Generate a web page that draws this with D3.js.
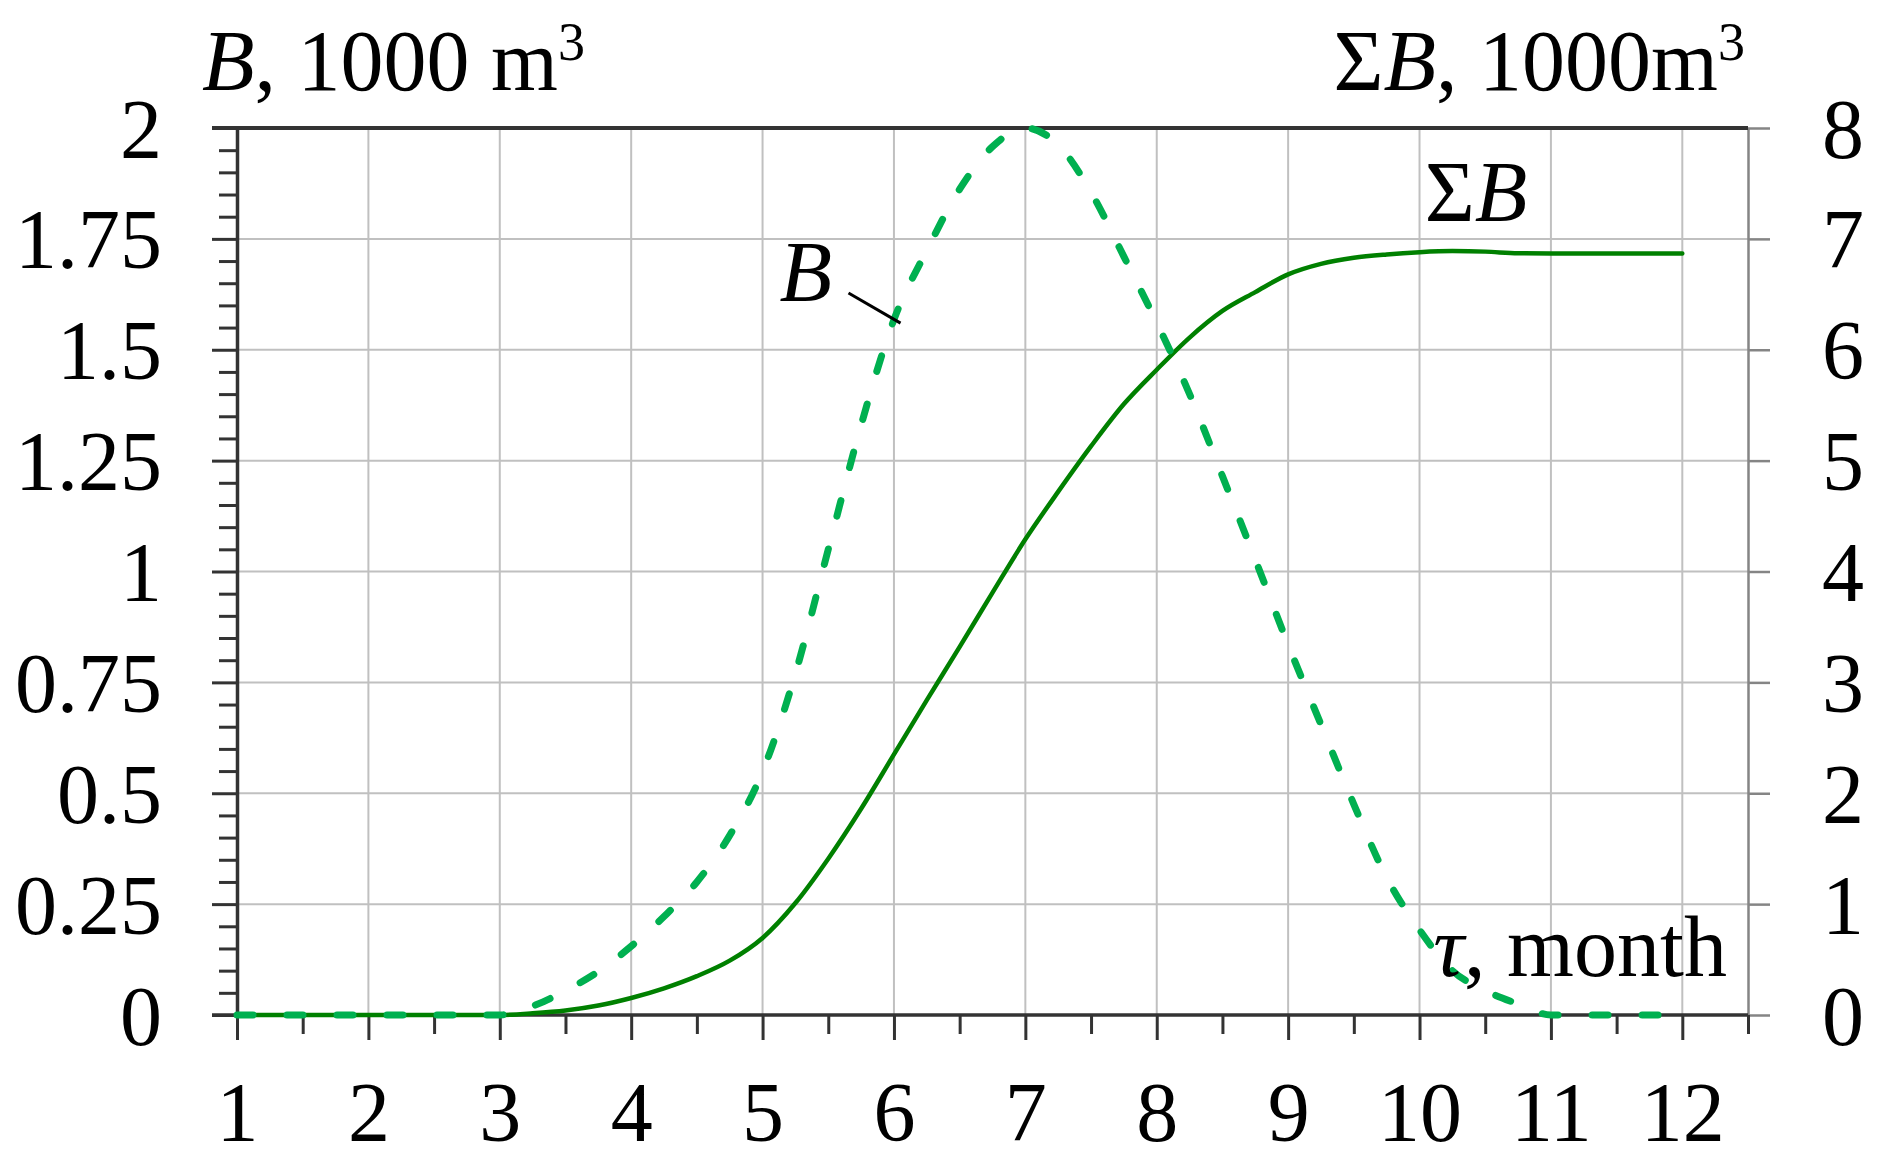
<!DOCTYPE html>
<html>
<head>
<meta charset="utf-8">
<script src="https://cdn.jsdelivr.net/npm/d3@7/dist/d3.min.js"></script>
<style>
  html, body { margin: 0; padding: 0; background: #fff; }
  svg { display: block; }
  text { font-family: "Liberation Serif", "Times New Roman", serif; fill: #000; }
</style>
</head>
<body>
<svg id="chart" width="1884" height="1172"></svg>
<script>
// ---- data ----
const months = [1, 1.25, 1.5, 1.75, 2, 2.25, 2.5, 2.75, 3, 3.25, 3.5, 3.75, 4, 4.25, 4.5, 4.75,
  5, 5.25, 5.5, 5.75, 6, 6.25, 6.5, 6.75, 7, 7.25, 7.5, 7.75, 8, 8.25, 8.5, 8.75,
  9, 9.25, 9.5, 9.75, 10, 10.25, 10.5, 10.75, 11, 11.25, 11.5, 11.75, 12];
const bValues = [0, 0, 0, 0, 0, 0, 0, 0, 0, 0.02, 0.055, 0.098, 0.155, 0.222, 0.30, 0.405,
  0.549, 0.77, 1.05, 1.33, 1.568, 1.724, 1.862, 1.958, 2.0, 1.962, 1.855, 1.71, 1.561, 1.40, 1.215, 1.027,
  0.835, 0.655, 0.475, 0.31, 0.192, 0.10, 0.055, 0.025, 0, 0, 0, 0, 0];
const sumBValues = [0, 0, 0, 0, 0, 0, 0, 0, 0, 0.015, 0.04, 0.085, 0.153, 0.24, 0.35, 0.49,
  0.695, 1.01, 1.41, 1.86, 2.35, 2.84, 3.32, 3.81, 4.29, 4.72, 5.13, 5.51, 5.82, 6.11, 6.35, 6.52,
  6.68, 6.775, 6.83, 6.86, 6.88, 6.89, 6.885, 6.87, 6.868, 6.868, 6.868, 6.868, 6.868];
const xTicks = [1, 2, 3, 4, 5, 6, 7, 8, 9, 10, 11, 12];
const xMinorTicks = [1.5, 2.5, 3.5, 4.5, 5.5, 6.5, 7.5, 8.5, 9.5, 10.5, 11.5, 12.5];
const leftTicks = [0, 0.25, 0.5, 0.75, 1, 1.25, 1.5, 1.75, 2];
const leftTickLabels = ["0", "0.25", "0.5", "0.75", "1", "1.25", "1.5", "1.75", "2"];
const rightTicks = [0, 1, 2, 3, 4, 5, 6, 7, 8];
const xDomain = [1, 12.5];
const leftDomain = [0, 2];
const rightDomain = [0, 8];

// ---- layout ----
const svg = d3.select("#chart");
const L = 237, R = 1748, T = 128, Bt = 1015;
const FS = 84;
const x = d3.scaleLinear().domain(xDomain).range([L, R]);
const yL = d3.scaleLinear().domain(leftDomain).range([Bt, T]);
const yR = d3.scaleLinear().domain(rightDomain).range([Bt, T]);

const dark = "#333333";
const gridC = "#c0c0c0";
const majorLen = 25, minorLen = 18;

// grid
const grid = svg.append("g");
grid.selectAll("line.v").data(xTicks.filter(d => d > 1)).join("line")
  .attr("x1", d => x(d)).attr("x2", d => x(d)).attr("y1", yL(0)).attr("y2", yL(2))
  .attr("stroke", gridC).attr("stroke-width", 2);
grid.selectAll("line.h").data(leftTicks.filter(d => d > 0 && d < 2)).join("line")
  .attr("x1", x(1)).attr("x2", x(12.5)).attr("y1", d => yL(d)).attr("y2", d => yL(d))
  .attr("stroke", gridC).attr("stroke-width", 2);

// right axis (gray)
const rightAxis = svg.append("g").attr("transform", `translate(${x(12.5)},0)`)
  .call(d3.axisRight(yR).tickValues(rightTicks).tickSize(22).tickSizeOuter(0).tickPadding(52).tickFormat(d3.format("d")));
rightAxis.select(".domain").attr("stroke", "#858585").attr("stroke-width", 2.5);
rightAxis.selectAll(".tick line").attr("stroke", "#858585").attr("stroke-width", 2.5);
rightAxis.selectAll(".tick text").attr("font-size", FS).attr("font-family", "Liberation Serif")
  .attr("dy", null).attr("y", 29).attr("fill", "#000");

// left minor ticks
const leftMinor = [];
for (let i = 0; i <= 40; i++) { if (i % 5 !== 0) leftMinor.push(i / 20); }
const lm = svg.append("g").attr("transform", `translate(${x(1)},0)`)
  .call(d3.axisLeft(yL).tickValues(leftMinor).tickSize(minorLen).tickSizeOuter(0).tickFormat(""));
lm.select(".domain").remove();
lm.selectAll(".tick line").attr("stroke", dark).attr("stroke-width", 3);

// left major axis
const la = svg.append("g").attr("transform", `translate(${x(1)},0)`)
  .call(d3.axisLeft(yL).tickValues(leftTicks).tickSize(majorLen).tickSizeOuter(0).tickPadding(50)
    .tickFormat((d, i) => leftTickLabels[i]));
la.select(".domain").attr("stroke", dark).attr("stroke-width", 3.5);
la.selectAll(".tick line").attr("stroke", dark).attr("stroke-width", 3);
la.selectAll(".tick text").attr("font-size", FS).attr("font-family", "Liberation Serif")
  .attr("dy", null).attr("y", 29).attr("fill", "#000");

// bottom minor ticks
const bm = svg.append("g").attr("transform", `translate(0,${yL(0)})`)
  .call(d3.axisBottom(x).tickValues(xMinorTicks).tickSize(19).tickSizeOuter(0).tickFormat(""));
bm.select(".domain").remove();
bm.selectAll(".tick line").attr("stroke", dark).attr("stroke-width", 3);

// bottom major
const ba = svg.append("g").attr("transform", `translate(0,${yL(0)})`)
  .call(d3.axisBottom(x).tickValues(xTicks).tickSize(majorLen).tickSizeOuter(0).tickFormat(d3.format("d")));
ba.select(".domain").remove();
ba.selectAll(".tick line").attr("stroke", dark).attr("stroke-width", 3);
ba.selectAll(".tick text").attr("font-size", FS).attr("font-family", "Liberation Serif")
  .attr("dy", null).attr("y", 126).attr("fill", "#000");

// top and bottom frame lines
svg.append("line").attr("x1", x(1) - majorLen).attr("x2", x(12.5)).attr("y1", yL(2)).attr("y2", yL(2))
  .attr("stroke", dark).attr("stroke-width", 4);
svg.append("line").attr("x1", x(1) - majorLen).attr("x2", x(12.5)).attr("y1", yL(0)).attr("y2", yL(0))
  .attr("stroke", dark).attr("stroke-width", 3.5);

// ---- series ----
const sumLine = d3.line().x((d, i) => x(months[i])).y(d => yR(d)).curve(d3.curveMonotoneX);
svg.append("path").datum(sumBValues).attr("d", sumLine)
  .attr("fill", "none").attr("stroke", "#008000").attr("stroke-width", 4.5).attr("stroke-linejoin", "round").attr("stroke-linecap", "round");

const bLine = d3.line().x((d, i) => x(months[i])).y(d => yL(d)).curve(d3.curveMonotoneX);
svg.append("path").datum(bValues).attr("d", bLine)
  .attr("fill", "none").attr("stroke", "#00b050").attr("stroke-width", 7)
  .attr("stroke-dasharray", "16 34").attr("stroke-linecap", "round");

// ---- annotations ----
// left title
const t1 = svg.append("text").attr("x", 202).attr("y", 90).attr("font-size", 86);
t1.append("tspan").attr("font-style", "italic").text("B");
t1.append("tspan").text(", 1000 m");
t1.append("tspan").attr("font-size", 54).attr("dy", -30).text("3");

// right title
const t2 = svg.append("text").attr("x", 1745).attr("y", 90).attr("font-size", 86).attr("text-anchor", "end");
t2.append("tspan").text("Σ");
t2.append("tspan").attr("font-style", "italic").text("B");
t2.append("tspan").text(", 1000m");
t2.append("tspan").attr("font-size", 54).attr("dy", -30).text("3");

// ΣB label
const t3 = svg.append("text").attr("x", x(10.04)).attr("y", yR(7.157)).attr("font-size", 86);
t3.append("tspan").text("Σ");
t3.append("tspan").attr("font-style", "italic").text("B");

// B label with leader
svg.append("text").attr("x", x(5.128)).attr("y", yL(1.609)).attr("font-size", 86)
  .attr("font-style", "italic").text("B");
svg.append("line").attr("x1", x(5.654)).attr("y1", yL(1.628)).attr("x2", x(6.05)).attr("y2", yL(1.56))
  .attr("stroke", "#000").attr("stroke-width", 3);

// τ, month
const t4 = svg.append("text").attr("x", x(10.105)).attr("y", yL(0.0886)).attr("font-size", 86);
t4.append("tspan").attr("font-style", "italic").text("τ");
t4.append("tspan").text(", month");
</script>
</body>
</html>
